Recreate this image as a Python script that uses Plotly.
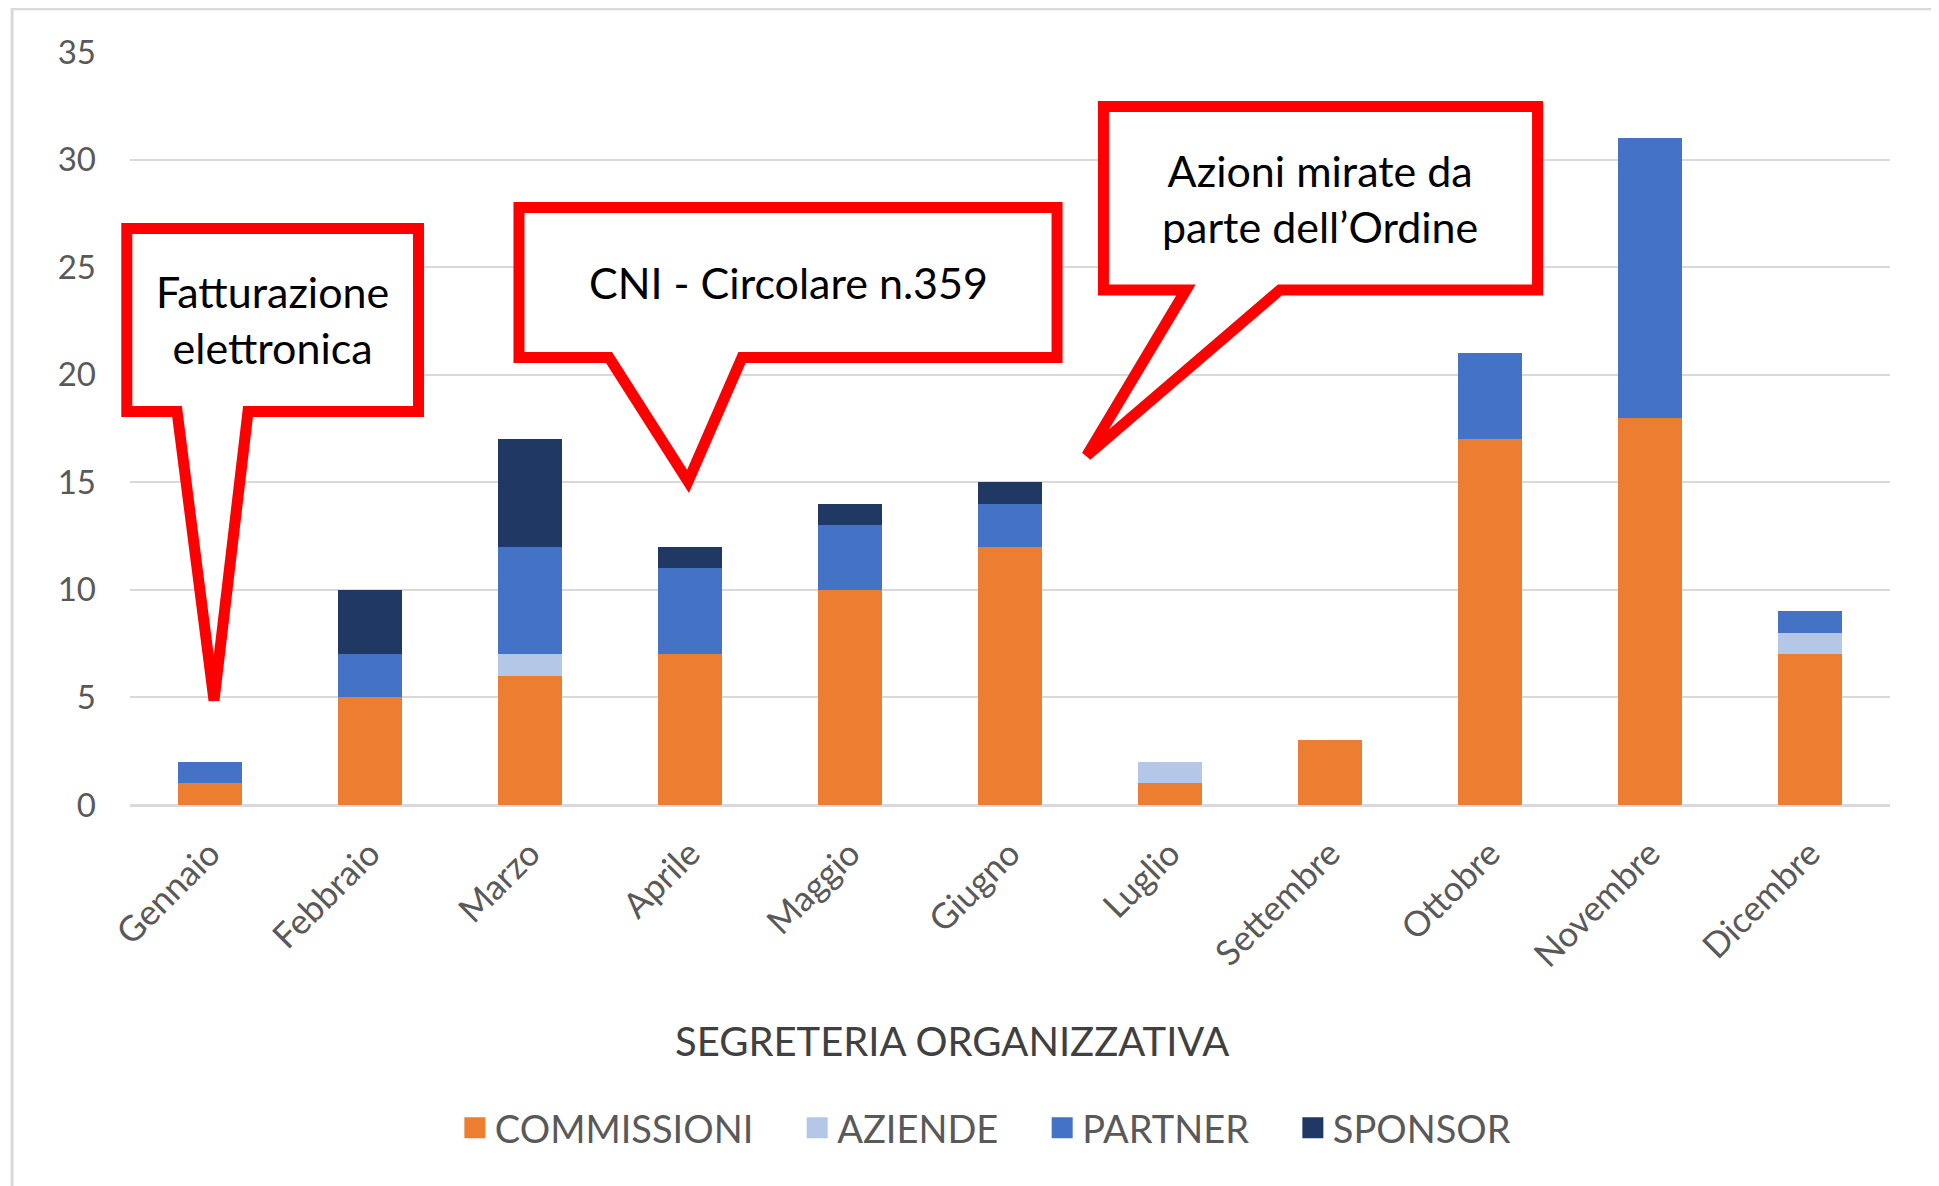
import plotly.graph_objects as go

# monthly counts, stacked bottom -> top
MONTHS = ['Gennaio', 'Febbraio', 'Marzo', 'Aprile', 'Maggio', 'Giugno',
          'Luglio', 'Settembre', 'Ottobre', 'Novembre', 'Dicembre']
COMMISSIONI = [1, 5, 6, 7, 10, 12, 1, 3, 17, 18, 7]
AZIENDE = [0, 0, 1, 0, 0, 0, 1, 0, 0, 0, 1]
PARTNER = [1, 2, 5, 4, 3, 2, 0, 0, 4, 13, 1]
SPONSOR = [0, 3, 5, 1, 1, 1, 0, 0, 0, 0, 0]

SERIES_NAMES = ['COMMISSIONI', 'AZIENDE', 'PARTNER', 'SPONSOR']
SERIES_COLORS = ['#ED7D31', '#B4C7E7', '#4472C4', '#203864']

Y_TICKS = [0, 5, 10, 15, 20, 25, 30, 35]
X_TITLE = 'SEGRETERIA ORGANIZZATIVA'

# callouts: text, box (x0, x1, y0, y1) and tail (base left, base right, tip) in axis units
CALLOUTS = [
    dict(text='Fatturazione<br>elettronica',
         box=(-0.52, 1.303, 18.29, 26.80),
         tail=((-0.206, 18.29), (0.2375, 18.29), (0.025, 4.86))),
    dict(text='CNI - Circolare n.359',
         box=(1.931, 5.294, 20.80, 27.77),
         tail=((2.494, 20.80), (3.325, 20.80), (2.9875, 15.04))),
    dict(text='Azioni mirate da<br>parte dell\u2019Ordine',
         box=(5.584, 8.297, 23.94, 32.47),
         tail=((6.10, 23.94), (6.6875, 23.94), (5.48, 16.24))),
]

FONT = 'Lato, "Open Sans", sans-serif'
NBSP = '\u00a0'
X_RANGE = [-0.5, 10.5]
Y_RANGE = [0, 35]


def px(x):
    # axis units -> paper fraction (paper shapes are not clipped at the plot edge)
    return (x - X_RANGE[0]) / (X_RANGE[1] - X_RANGE[0])


def py(y):
    return (y - Y_RANGE[0]) / (Y_RANGE[1] - Y_RANGE[0])


fig = go.Figure()
x_idx = list(range(len(MONTHS)))
for name, vals, color in zip(SERIES_NAMES, [COMMISSIONI, AZIENDE, PARTNER, SPONSOR], SERIES_COLORS):
    fig.add_trace(go.Bar(x=x_idx, y=vals, name=name, showlegend=False,
                         marker=dict(color=color, line=dict(width=0))))

# legend entries with bigger square keys (bar keys are fixed at 12px)
for i, (name, color) in enumerate(zip(SERIES_NAMES, SERIES_COLORS)):
    pad = NBSP * 4 if i < len(SERIES_NAMES) - 1 else ''
    fig.add_trace(go.Scatter(x=[None], y=[None], mode='markers', name=name + pad,
                             hoverinfo='skip',
                             marker=dict(symbol='square', size=16, color=color,
                                         line=dict(color=color, width=5))))

# callout balloons
for c in CALLOUTS:
    x0, x1, y0, y1 = c['box']
    (bl, by), (br, _), (tx, ty) = c['tail']
    pts = [(x0, y1), (x1, y1), (x1, y0), (br, by), (tx, ty), (bl, by), (x0, y0)]
    path = 'M ' + ' L '.join(f'{px(a):.5f},{py(b):.5f}' for a, b in pts) + ' Z'
    fig.add_shape(type='path', path=path, xref='paper', yref='paper',
                  line=dict(color='#FF0000', width=11), fillcolor='white', layer='above')
    fig.add_annotation(x=(x0 + x1) / 2, y=(y0 + y1) / 2, xref='x', yref='y',
                       text=c['text'], showarrow=False,
                       font=dict(family=FONT, size=43, color='#000000'))

# axis title placed as a free annotation (sits a bit left of plot center)
fig.add_annotation(text=X_TITLE, xref='paper', yref='paper', x=0.467, y=-0.313,
                   xanchor='center', yanchor='middle', showarrow=False,
                   font=dict(family=FONT, size=40, color='#404040'))

# chart-area frame
fig.add_shape(type='rect', xref='paper', yref='paper',
              x0=-0.067, x1=1.04, y0=-0.53, y1=1.0575,
              line=dict(color='#D9D9D9', width=3), fillcolor='rgba(0,0,0,0)', layer='below')

# page body keeps its default 8px margin, so the figure is 8px smaller
fig.update_layout(
    barmode='stack',
    bargap=0.6,
    width=1931, height=1178,
    margin=dict(l=122, r=49, t=44, b=381),
    paper_bgcolor='white', plot_bgcolor='white',
    font=dict(family=FONT, color='#595959'),
    showlegend=True,
    legend=dict(orientation='h', x=0.486, xanchor='center', y=-0.429, yanchor='middle',
                font=dict(family=FONT, size=38, color='#595959'),
                traceorder='normal', itemsizing='trace'),
    xaxis=dict(range=X_RANGE, tickmode='array', tickvals=x_idx, ticktext=MONTHS,
               tickangle=-45, tickfont=dict(family=FONT, size=35, color='#595959'),
               showgrid=False, zeroline=False, showline=False, ticks='',
               ticklabelstandoff=20),
    yaxis=dict(range=Y_RANGE, tickmode='array', tickvals=Y_TICKS,
               tickfont=dict(family=FONT, size=33, color='#595959'),
               showgrid=True, gridcolor='#D9D9D9', gridwidth=2,
               zeroline=True, zerolinecolor='#D9D9D9', zerolinewidth=3,
               showline=False, ticks='', ticklabelstandoff=33),
)

fig.write_html('out.html')
